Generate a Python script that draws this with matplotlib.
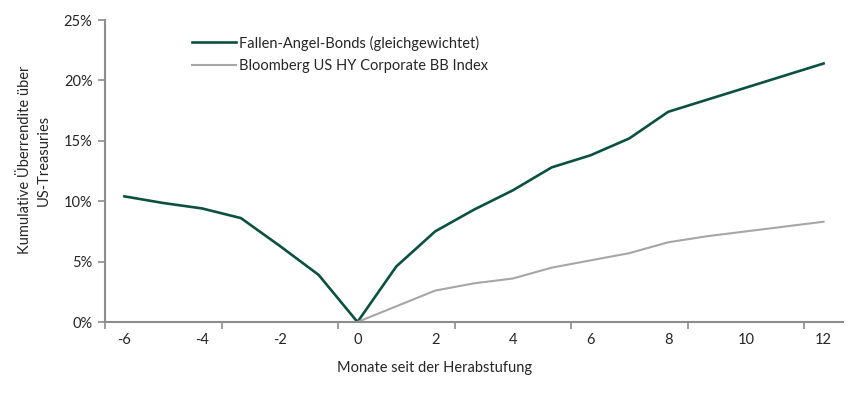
import numpy as np
import matplotlib
matplotlib.use("Agg")
import matplotlib.pyplot as plt

# Data
months = [-6, -5, -4, -3, -2, -1, 0, 1, 2, 3, 4, 5, 6, 7, 8, 9, 10, 11, 12]
fallen_angels = [10.4, 9.85, 9.4, 8.6, 6.3, 3.9, 0.0, 4.6, 7.5, 9.3, 10.9, 12.8,
                 13.8, 15.2, 17.4, 18.4, 19.4, 20.4, 21.4]
bb_months = [0, 1, 2, 3, 4, 5, 6, 7, 8, 9, 10, 11, 12]
bb_index = [0.0, 1.3, 2.6, 3.2, 3.6, 4.5, 5.1, 5.7, 6.6, 7.1, 7.5, 7.9, 8.3]
x_labels = [-6, -4, -2, 0, 2, 4, 6, 8, 10, 12]

plt.rcParams['font.family'] = ['Lato', 'DejaVu Sans']
axis_grey = '#8c8c8c'
text_col = '#262626'

fig = plt.figure(figsize=(8.5, 3.93), dpi=100)
ax = fig.add_axes([105 / 850, 71 / 393, 738 / 850, 302 / 393])

ax.plot(months, fallen_angels, color='#0b5141', linewidth=1.9,
        label='Fallen-Angel-Bonds (gleichgewichtet)')
ax.plot(bb_months, bb_index, color='#a6a6a6', linewidth=1.5,
        label='Bloomberg US HY Corporate BB Index')

ax.set_xlim(-6.5, 12.5)
ax.set_ylim(0, 25)

# y axis
ax.set_yticks(np.arange(0, 26, 5))
ax.set_yticklabels([f'{v}%' for v in range(0, 26, 5)])

# x axis: tick marks between categories, labels every second month
ax.set_xticks(np.arange(-6.5, 12.6, 3))
ax.set_xticklabels([])
ax.set_xticks(x_labels, minor=True)
ax.set_xticklabels([str(v) for v in x_labels], minor=True)
ax.tick_params(axis='x', which='minor', length=0, pad=8)
ax.tick_params(axis='x', which='major', length=5, width=1.2, color=axis_grey, direction='out')
ax.tick_params(axis='y', length=5, width=1.2, color=axis_grey, direction='out', pad=4)
ax.tick_params(which='both', labelsize=10.5, labelcolor=text_col)

for side in ['top', 'right']:
    ax.spines[side].set_visible(False)
for side in ['left', 'bottom']:
    ax.spines[side].set_color(axis_grey)
    ax.spines[side].set_linewidth(1.5)

fig.text(435 / 850, 1 - 368 / 393, 'Monate seit der Herabstufung', ha='center', va='center',
         fontsize=10.5, color=text_col)
fig.text(34 / 850, 1 - 160 / 393, 'Kumulative Überrendite über\nUS-Treasuries', ha='center',
         va='center', rotation=90, fontsize=10.5, color=text_col, linespacing=1.45)

ax.legend(loc='upper left', bbox_to_anchor=(0.1, 0.992), frameon=False, fontsize=10.5,
          handlelength=3.0, handletextpad=0.2, labelspacing=0.55, labelcolor=text_col)

fig.savefig('out.png', dpi=100)
